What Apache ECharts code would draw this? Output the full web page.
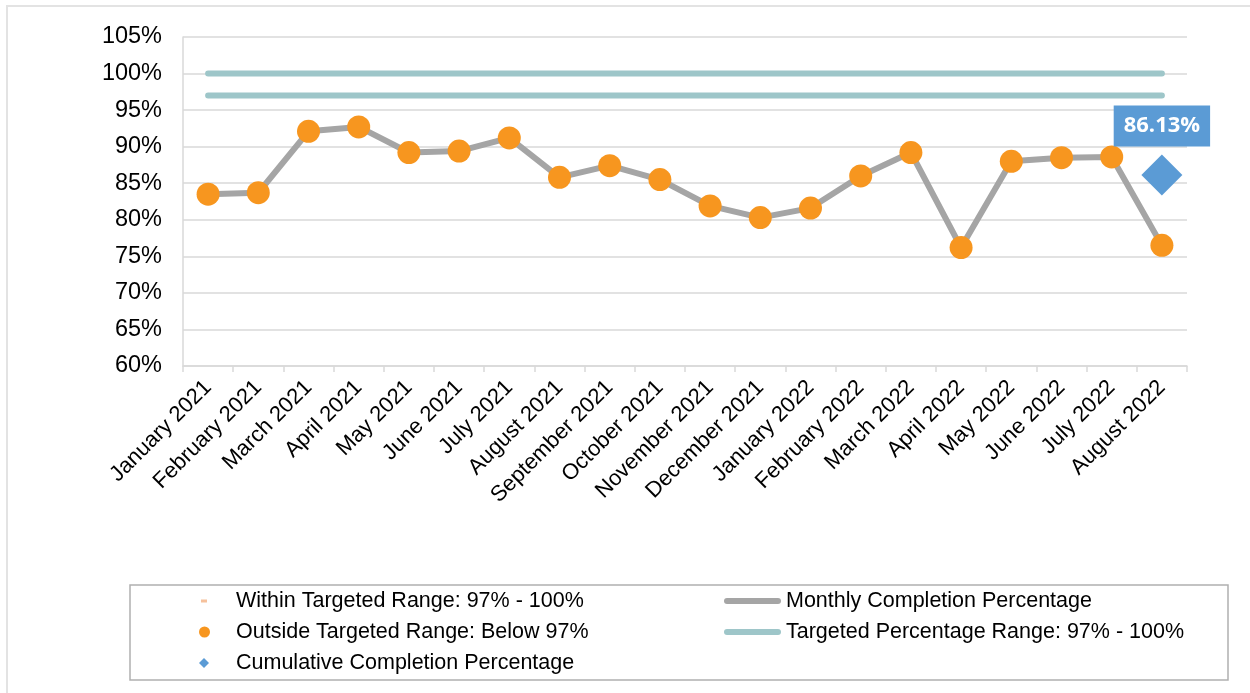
<!DOCTYPE html>
<html>
<head>
<meta charset="utf-8">
<script src="https://cdn.jsdelivr.net/npm/echarts@6/dist/echarts.min.js"></script>
<style>
  html, body { margin: 0; padding: 0; background: #fff; }
  #chart { width: 1250px; height: 693px; }
</style>
</head>
<body>
<div id="chart"></div>
<script>
var months = ['January 2021', 'February 2021', 'March 2021', 'April 2021', 'May 2021', 'June 2021',
    'July 2021', 'August 2021', 'September 2021', 'October 2021', 'November 2021', 'December 2021',
    'January 2022', 'February 2022', 'March 2022', 'April 2022', 'May 2022', 'June 2022',
    'July 2022', 'August 2022'];
var monthlyPct = [83.5, 83.7, 92.1, 92.7, 89.2, 89.4, 91.2, 85.8, 87.4, 85.5,
    81.9, 80.3, 81.6, 86.0, 89.2, 76.2, 88.0, 88.5, 88.6, 76.5];
// no month fell inside the 97-100 range
var withinPct = [null, null, null, null, null, null, null, null, null, null,
    null, null, null, null, null, null, null, null, null, null];
var cumulativePct = [null, null, null, null, null, null, null, null, null, null,
    null, null, null, null, null, null, null, null, null, 86.13];
var targetHigh = [100, 100, 100, 100, 100, 100, 100, 100, 100, 100,
    100, 100, 100, 100, 100, 100, 100, 100, 100, 100];
var targetLow = [97, 97, 97, 97, 97, 97, 97, 97, 97, 97,
    97, 97, 97, 97, 97, 97, 97, 97, 97, 97];

var FONT = 'Liberation Sans, Arial, sans-serif';
var GRID_COLOR = '#d9d9d9';
// thick rounded stroke used as legend icon for the line series
var LINE_ICON = 'path://M3,0H54A3,3 0 0 1 54,6H3A3,3 0 0 1 3,0Z';

var legendItem = function (name, left, top, w, h, icon, pad) {
    return {
        data: [{ name: name, icon: icon }],
        orient: 'vertical',
        left: left,
        top: top,
        padding: 0,
        itemWidth: w,
        itemHeight: h,
        selectedMode: false,
        textStyle: { fontSize: 21.5, color: '#000', fontFamily: FONT, lineHeight: 22, padding: [0, 0, 0, pad] }
    };
};

var myChart = echarts.init(document.getElementById('chart'));
var option = {
    animation: false,
    grid: { left: 183, right: 63, top: 37, bottom: 327 },
    graphic: [
        {
            type: 'rect', silent: true,
            shape: { x: 7, y: 6, width: 1300, height: 800 },
            style: { fill: 'none', stroke: '#e3e3e3', lineWidth: 2 }
        },
        {
            type: 'rect', silent: true,
            shape: { x: 130, y: 585, width: 1098, height: 95 },
            style: { fill: 'none', stroke: '#b0b0b0', lineWidth: 1.5 }
        }
    ],
    legend: [
        legendItem('Within Targeted Range: 97% - 100%', 201, 590, 6, 3, 'rect', 24),
        legendItem('Outside Targeted Range: Below 97%', 199, 621, 11, 11, 'circle', 21),
        legendItem('Cumulative Completion Percentage', 199, 652, 10, 10, 'diamond', 22),
        legendItem('Monthly Completion Percentage', 724, 590, 57, 6, LINE_ICON, 0),
        legendItem('Targeted Percentage Range: 97% - 100%', 724, 621, 57, 6, LINE_ICON, 0)
    ],
    xAxis: {
        type: 'category',
        data: months,
        boundaryGap: true,
        axisLine: { lineStyle: { color: GRID_COLOR, width: 1.5 } },
        axisTick: { show: true, length: 6, lineStyle: { color: GRID_COLOR, width: 1.5 } },
        axisLabel: { interval: 0, rotate: 45, margin: 18, fontSize: 22, color: '#000', fontFamily: FONT }
    },
    yAxis: {
        type: 'value',
        min: 60,
        max: 105,
        interval: 5,
        axisLine: { show: true, lineStyle: { color: GRID_COLOR, width: 1.5 } },
        axisTick: { show: false },
        splitLine: { lineStyle: { color: GRID_COLOR, width: 1.5 } },
        axisLabel: { formatter: '{value}%', margin: 21, fontSize: 23.5, color: '#000', fontFamily: FONT }
    },
    series: [
        {
            name: 'Targeted Percentage Range: 97% - 100%',
            type: 'line',
            data: targetHigh,
            symbol: 'none',
            lineStyle: { color: '#9ec6c9', width: 6, cap: 'round' },
            itemStyle: { color: '#9ec6c9' },
            z: 2
        },
        {
            name: 'Targeted Percentage Range: 97% - 100%',
            type: 'line',
            data: targetLow,
            symbol: 'none',
            lineStyle: { color: '#9ec6c9', width: 6, cap: 'round' },
            itemStyle: { color: '#9ec6c9' },
            z: 2
        },
        {
            name: 'Monthly Completion Percentage',
            type: 'line',
            data: monthlyPct,
            symbol: 'none',
            lineStyle: { color: '#a5a5a5', width: 6, cap: 'round', join: 'round' },
            itemStyle: { color: '#a5a5a5' },
            z: 3
        },
        {
            name: 'Within Targeted Range: 97% - 100%',
            type: 'scatter',
            data: withinPct,
            symbol: 'rect',
            symbolSize: [6, 3],
            itemStyle: { color: '#f4b183' },
            z: 4
        },
        {
            name: 'Outside Targeted Range: Below 97%',
            type: 'scatter',
            data: monthlyPct,
            symbol: 'circle',
            symbolSize: 23,
            itemStyle: { color: '#f7961f', opacity: 1 },
            z: 5
        },
        {
            name: 'Cumulative Completion Percentage',
            type: 'scatter',
            data: cumulativePct,
            symbol: 'diamond',
            symbolSize: 41,
            itemStyle: { color: '#5b9bd5', opacity: 1 },
            label: {
                show: true,
                position: 'top',
                distance: 8,
                formatter: function (p) { return p.value.toFixed(2) + '%'; },
                backgroundColor: '#5b9bd5',
                color: '#fff',
                fontFamily: 'Open Sans, sans-serif',
                fontWeight: 'bold',
                fontSize: 22,
                lineHeight: 23,
                padding: [9, 10]
            },
            z: 6
        }
    ]
};
myChart.setOption(option);
</script>
</body>
</html>
